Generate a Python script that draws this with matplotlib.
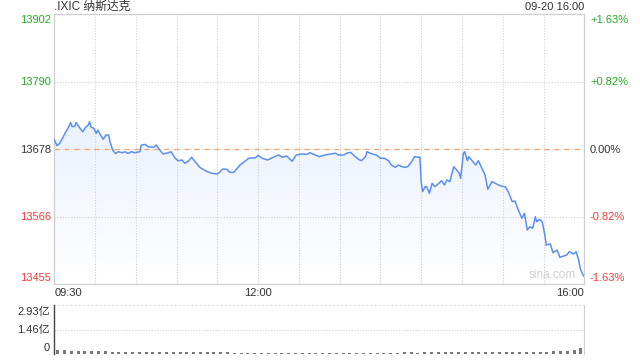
import matplotlib
matplotlib.use("Agg")
import matplotlib.pyplot as plt
import numpy as np
from matplotlib.patches import Polygon

plt.rcParams['font.family'] = ['Liberation Sans', 'Noto Sans CJK SC', 'DejaVu Sans']

# ---- data ----
PREV_CLOSE = 13678
Y_TICKS = [13902, 13790, 13678, 13566, 13455]
PCT_LABELS = ['+1.63%', '+0.82%', '0.00%', '-0.82%', '-1.63%']
X_TICK_LABELS = ['09:30', '12:00', '16:00']
X_TICK_MINUTES = [0, 150, 390]

# minutes after 09:30 and index level
minutes = [0, 2, 4, 8, 10, 12, 13, 15, 16, 19, 21, 23, 25, 26, 27, 29, 31, 32, 34, 36,
           38, 40, 41, 43, 45, 47, 50, 52, 54, 57, 59, 63, 64, 67, 69, 73, 75, 78, 80, 84,
           86, 89, 91, 94, 96, 99, 101, 104, 107, 111, 116, 120, 122, 124, 127, 129, 132, 134, 137, 139,
           143, 148, 150, 153, 157, 162, 165, 168, 171, 175, 178, 182, 186, 188, 192, 195, 199, 203, 207, 209,
           213, 215, 218, 221, 224, 226, 229, 230, 234, 237, 240, 243, 246, 248, 251, 253, 256, 258, 260, 263,
           265, 268, 269, 270, 271, 273, 274, 276, 278, 280, 283, 285, 287, 289, 291, 294, 296, 298, 299, 301,
           302, 304, 305, 307, 310, 312, 315, 317, 319, 322, 324, 327, 329, 332, 334, 337, 339, 341, 344, 346,
           348, 350, 352, 354, 355, 357, 359, 361, 362, 365, 367, 370, 372, 375, 377, 379, 382, 384, 386, 387,
           389, 390]
prices = [13693.4, 13684.3, 13687.9, 13705.0, 13712.8, 13722.4, 13715.8, 13715.8, 13722.4, 13712.8,
          13707.1, 13714.4, 13718.2, 13723.7, 13714.9, 13712.8, 13704.5, 13710.0, 13701.7, 13694.6,
          13701.7, 13701.7, 13690.6, 13676.8, 13671.1, 13674.0, 13672.4, 13674.0, 13671.4, 13674.0,
          13672.4, 13674.0, 13685.1, 13686.0, 13682.3, 13681.3, 13685.1, 13675.7, 13670.2, 13672.4,
          13674.0, 13663.1, 13659.1, 13660.3, 13654.8, 13659.1, 13664.8, 13656.5, 13648.2, 13642.6,
          13638.3, 13637.1, 13640.9, 13645.4, 13644.9, 13639.9, 13639.9, 13644.9, 13652.8, 13655.8,
          13663.1, 13664.1, 13668.1, 13663.1, 13660.3, 13665.8, 13668.6, 13664.8, 13666.9, 13658.3,
          13668.6, 13670.2, 13669.7, 13672.4, 13668.6, 13665.8, 13668.6, 13670.2, 13671.4, 13668.6,
          13668.6, 13671.4, 13673.0, 13666.9, 13661.4, 13659.1, 13665.8, 13674.0, 13670.2, 13668.6,
          13663.1, 13663.1, 13659.1, 13652.0, 13648.2, 13652.0, 13649.2, 13648.2, 13649.2, 13657.5,
          13665.8, 13664.8, 13665.3, 13623.9, 13608.1, 13616.1, 13616.4, 13605.2, 13621.7, 13616.1,
          13621.7, 13626.0, 13618.9, 13627.2, 13624.4, 13649.2, 13643.7, 13638.3, 13630.0, 13671.4,
          13674.0, 13659.1, 13665.8, 13660.3, 13652.0, 13659.1, 13644.9, 13635.5, 13611.8, 13624.4,
          13622.2, 13618.9, 13617.2, 13615.6, 13607.8, 13591.3, 13592.4, 13580.3, 13563.8, 13572.0,
          13544.4, 13549.9, 13547.2, 13566.4, 13558.1, 13562.1, 13558.1, 13536.1, 13519.6, 13521.2,
          13506.8, 13511.3, 13499.2, 13501.4, 13503.0, 13508.5, 13504.7, 13508.5, 13493.6, 13481.0,
          13469.9, 13467.4]

# 5-minute volume, unit: 亿
volume = [0.26, 0.22, 0.20, 0.18, 0.17, 0.16, 0.15, 0.15, 0.14, 0.14, 0.13, 0.13,
          0.12, 0.12, 0.11, 0.12, 0.11, 0.11, 0.10, 0.10, 0.10, 0.10, 0.09, 0.10,
          0.09, 0.09, 0.08, 0.08, 0.08, 0.07, 0.07, 0.07, 0.06, 0.06, 0.06, 0.06,
          0.06, 0.06, 0.06, 0.06, 0.06, 0.06, 0.06, 0.06, 0.07, 0.07, 0.07, 0.07,
          0.08, 0.08, 0.08, 0.09, 0.09, 0.08, 0.09, 0.09, 0.09, 0.10, 0.10, 0.10,
          0.11, 0.10, 0.11, 0.12, 0.11, 0.12, 0.11, 0.12, 0.12, 0.13, 0.12, 0.13,
          0.14, 0.15, 0.17, 0.19, 0.25, 0.38]
VOL_MAX = 2.93

GREEN = '#22aa22'
RED = '#f23b3b'
DARK = '#333333'
LINE = '#5b8ff0'
GRID = '#cfcfcf'

W, H = 640, 360
fig = plt.figure(figsize=(6.4, 3.6), dpi=100)


def fx(px):
    return px / W


def fy(py):
    return 1 - py / H


# main price panel (pixel box 54..584 x 14..284)
ax = fig.add_axes([fx(54.3), fy(284), 530 / W, 270 / H])
ax.set_xlim(0, 390)
ax.set_ylim(Y_TICKS[-1], Y_TICKS[0])

# gradient fill under the line
poly_pts = list(zip(minutes, prices)) + [(minutes[-1], Y_TICKS[-1]), (minutes[0], Y_TICKS[-1])]
poly = Polygon(poly_pts, closed=True, facecolor='none', edgecolor='none')
ax.add_patch(poly)
grad = np.linspace(0, 1, 256).reshape(-1, 1)
top_c = np.array([0.87, 0.91, 0.985])
bot_c = np.array([1.0, 1.0, 1.0])
img = top_c[None, None, :] * (1 - grad[:, :, None]) + bot_c[None, None, :] * grad[:, :, None]
im = ax.imshow(img, extent=[0, 390, Y_TICKS[-1], Y_TICKS[0]], aspect='auto', origin='upper', zorder=1)
im.set_clip_path(poly)

# grid
for t in range(30, 390, 30):
    ax.axvline(t, color=GRID, lw=0.8, ls=(0, (1, 1.5)), zorder=2)
for v in [13790, PREV_CLOSE, 13566]:
    ax.axhline(v, color=GRID, lw=0.8, ls=(0, (1, 1.5)), zorder=2)
ax.axhline(PREV_CLOSE, color='#f4a46e', lw=0.9, ls=(0, (4, 4)), zorder=2)

ax.plot(minutes, prices, color=LINE, lw=1.1, zorder=3)

ax.set_xticks([])
ax.set_yticks([])
for s in ax.spines.values():
    s.set_color(GRID)
    s.set_linewidth(0.9)

ax.text(0.985, 0.012, 'sina.com', transform=ax.transAxes, ha='right', va='bottom',
        fontsize=8.5, color='#d0d0d0', zorder=4)

# left / right axis labels
left_y = [20, 82, 149.7, 217, 278]
label_colors = [GREEN, GREEN, DARK, RED, RED]
for v, py, c, pct in zip(Y_TICKS, left_y, label_colors, PCT_LABELS):
    fig.text(fx(51), fy(py), str(v), ha='right', va='center', fontsize=8, color=c)
    fig.text(fx(590), fy(py), pct, ha='left', va='center', fontsize=8, color=c)

# time labels
fig.text(fx(55), fy(293), X_TICK_LABELS[0], ha='left', va='center', fontsize=8, color=DARK)
fig.text(fx(54.3 + X_TICK_MINUTES[1] * 530 / 390), fy(293), X_TICK_LABELS[1],
         ha='center', va='center', fontsize=8, color=DARK)
fig.text(fx(584), fy(293), X_TICK_LABELS[2], ha='right', va='center', fontsize=8, color=DARK)

# header
fig.text(fx(54), fy(7), '.IXIC 纳斯达克', ha='left', va='center', fontsize=8.5, color=DARK)
fig.text(fx(584), fy(7), '09-20 16:00', ha='right', va='center', fontsize=8, color=DARK)

# volume panel (pixel box 54..584 x 305..354)
vax = fig.add_axes([fx(54.3), fy(354), 530 / W, 49 / H])
vax.set_xlim(0, 390)
vax.set_ylim(0, VOL_MAX)
vol_t = [i * 5 + 2.5 for i in range(len(volume))]
vax.bar(vol_t, volume, width=2.2, color='#777777', zorder=3)
vax.axhline(VOL_MAX / 2, color=GRID, lw=0.8, ls=(0, (1, 1.5)))
vax.axhline(VOL_MAX, color=GRID, lw=1.2, ls=(0, (1, 1.5)))
vax.set_xticks([])
vax.set_yticks([])
vax.spines['top'].set_visible(False)
vax.spines['bottom'].set_visible(False)
vax.spines['left'].set_color('#444444')
vax.spines['left'].set_linewidth(1.0)
vax.spines['right'].set_color(GRID)

vol_labels = ['2.93亿', '1.46亿', '0']
vol_label_y = [311.5, 329.5, 348]
for lab, py in zip(vol_labels, vol_label_y):
    fig.text(fx(50), fy(py), lab, ha='right', va='center', fontsize=8, color=DARK)

fig.savefig('out.png', dpi=100)
